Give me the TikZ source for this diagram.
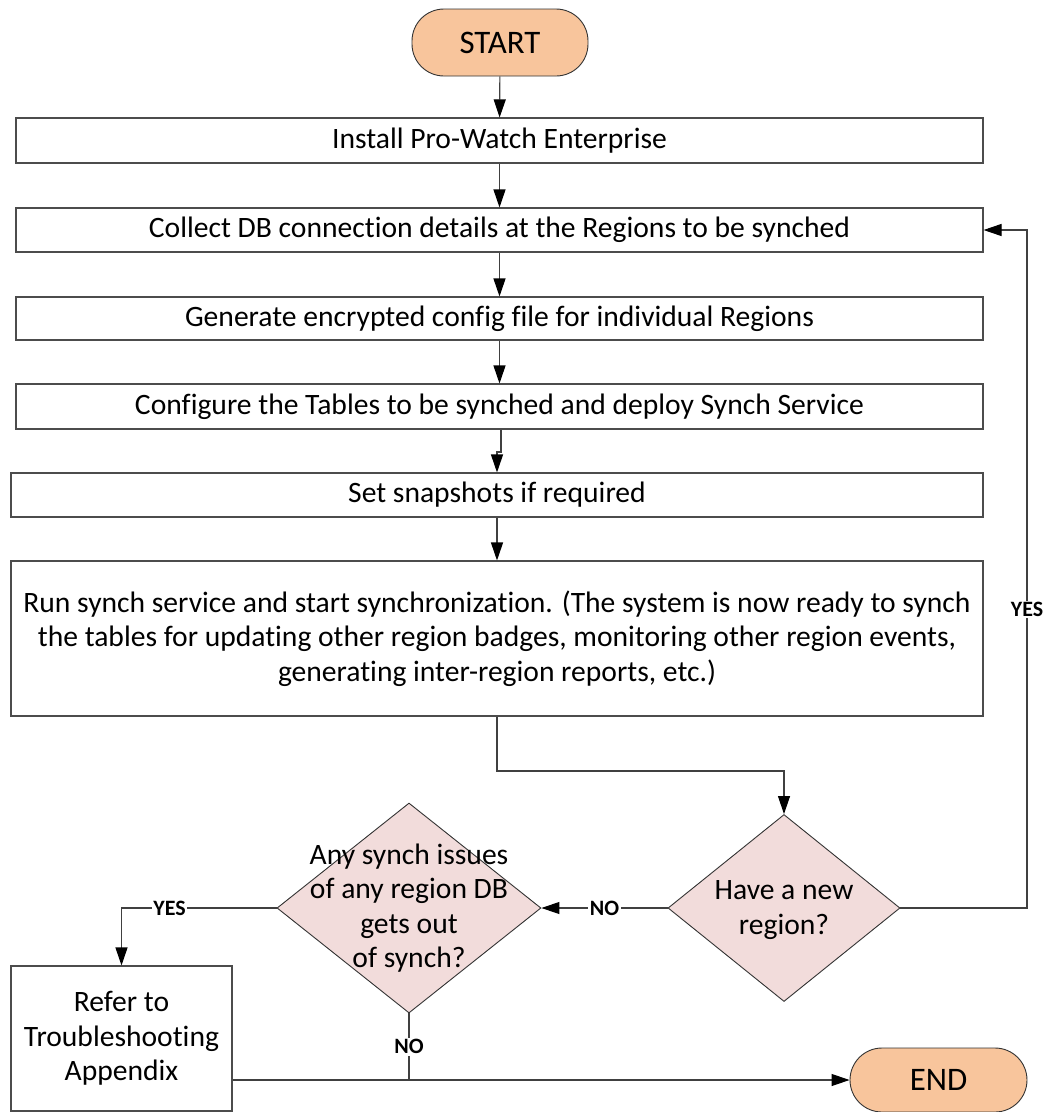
\documentclass[tikz,border=0pt]{standalone}
\usepackage{fontspec}
\setmainfont[Ligatures={NoCommon}]{Carlito}
\usetikzlibrary{shapes.geometric,arrows.meta}
\definecolor{termfill}{HTML}{F8C59C}
\definecolor{decfill}{HTML}{F2DCDB}

\begin{document}
\begin{tikzpicture}[x=1bp,y=-1bp,
    txt/.style={font=\fontsize{29.7}{34.5}\selectfont},
    stepbox/.style={draw=black!70, line width=1.1bp, rectangle, inner sep=0pt, minimum height=45bp, txt},
    term/.style={draw=black!80, line width=0.9bp, fill=termfill, rounded corners=32bp, inner sep=0pt, font=\fontsize{33}{38}\selectfont},
    decide/.style={draw=black!80, line width=0.9bp, fill=decfill, diamond, inner sep=0pt},
    flow/.style={draw=black!75, line width=1.1bp, -{Triangle[length=18bp,width=12bp,color=black]}},
    plain/.style={draw=black!75, line width=1.1bp},
    lbl/.style={fill=white, inner sep=1.5bp, font=\bfseries\fontsize{22}{25}\selectfont}]
                % Page frame
                \useasboundingbox (0,0) rectangle (1047,1112);

                % Start and main steps
                \node[term, minimum width=176bp, minimum height=67bp] (start) at (500,42.5) {START};
                \node[stepbox, minimum width=967bp] (install) at (499.5,140.5) {Install Pro-Watch Enterprise};
                \node[stepbox, minimum width=967bp, minimum height=44bp] (collect) at (499.5,230) {Collect DB connection details at the Regions to be synched};
                \node[stepbox, minimum width=967bp, minimum height=43bp] (generate) at (499.5,318.5) {Generate encrypted config file for individual Regions};
                \node[stepbox, minimum width=967bp] (config) at (499.5,406.5) {Configure the Tables to be synched and deploy Synch Service};
                \node[stepbox, minimum width=972bp, minimum height=44bp] (snap) at (497,495) {Set snapshots if required};
                \node[stepbox, minimum width=972bp, minimum height=155bp, align=center] (runsync) at (497,638.5)
                    {Run synch service and start synchronization. (The system is now ready to synch\\
                     the tables for updating other region badges, monitoring other region events,\\
                     generating inter-region reports, etc.)};

                % Decisions
                \node[decide, minimum width=232bp, minimum height=187bp] (newreg) at (784,908) {};
                \node[txt, align=center] (newregtxt) at (784,910) {Have a new\\region?};
                \node[decide, minimum width=264bp, minimum height=210bp] (issues) at (409,908) {};
                \node[txt, align=center] (issuestxt) at (409,908) {Any synch issues\\of any region DB\\gets out\\of synch?};

                % Outcomes
                \node[stepbox, minimum width=221bp, minimum height=145bp, align=center] (refer) at (121.5,1038.5) {Refer to\\Troubleshooting\\Appendix};
                \node[term, minimum width=177bp, minimum height=64bp] (finish) at (938.5,1080) {END};

                % Turning points
                \coordinate (jog) at (501,452);
                \coordinate (bend) at (497,771);
                \coordinate (loop) at (1027,230);

                % Main flow
                \draw[flow] (start) -- (install);
                \draw[flow] (install) -- (collect);
                \draw[flow] (collect) -- (generate);
                \draw[flow] (generate) -- (config);
                \draw[flow] (jog |- config.south) -- (jog) -| (snap.north);
                \draw[flow] (snap) -- (runsync);
                \draw[flow] (runsync.south) -- (bend) -| (newreg.north);

                % Decision branches
                \draw[flow] (newreg.east) -| node[lbl, pos=0.72] {YES} (loop) -- (collect.east);
                \draw[flow] (newreg.west) -- node[lbl] {NO} (issues.east);
                \draw[flow] (issues.west) -| node[lbl, pos=0.345] {YES} (refer.north);
                \draw[plain] (issues.south) -- node[lbl] {NO} (issues.south |- finish.west);
                \draw[flow] (refer.east |- finish.west) -- (finish.west);
            \end{tikzpicture}
\end{document}
